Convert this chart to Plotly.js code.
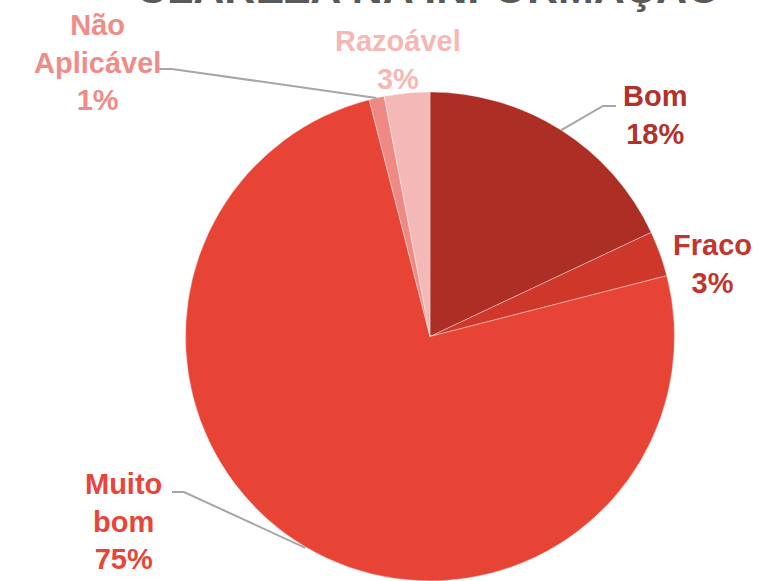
<!DOCTYPE html>
<html>
<head>
<meta charset="utf-8">
<script src="https://cdn.plot.ly/plotly-3.0.1.min.js"></script>
<style>html,body{margin:0;padding:0;background:#fff;}#chart{width:760px;height:581px;}</style>
</head>
<body>
<div id="chart"></div>
<script>
// ---- data ----
const categories = ["Bom", "Fraco", "Muito bom", "Não Aplicável", "Razoável"];
const values = [18, 3, 75, 1, 3];
const sliceColors = ["#ad2e24", "#d0372b", "#e84436", "#ef8984", "#f4b9b6"];
const labelColors = ["#b0322a", "#c2372d", "#e8453a", "#f08c87", "#f5b8b5"];
const chartTitle = "CLAREZA NA INFORMAÇÃO";

// ---- layout config (pixels) ----
const W = 760, H = 581;
const cx = 430, cy = 337, R = 245;
const labelCfg = [
  {x: 655, y: 115, line: [[603, 106], [616, 106]]},
  {x: 712, y: 264, line: null},
  {x: 123, y: 521, line: [[184, 492], [172, 492]]},
  {x: 97,  y: 62,  line: [[172, 69], [158, 69]]},
  {x: 398, y: 60,  line: null}
];
const px = x => x / W;
const py = y => 1 - y / H;

const total = values.reduce((a, b) => a + b, 0);
const annotations = [];
const shapes = [];
let cum = 0;
values.forEach((v, i) => {
  const mid = (cum + v / 2) / total * 2 * Math.PI;
  cum += v;
  const pct = Math.round(v / total * 100) + "%";
  const text = categories[i].split(" ").join("<br>") + "<br>" + pct;
  const cfg = labelCfg[i];
  annotations.push({
    text: text, xref: "paper", yref: "paper", x: px(cfg.x), y: py(cfg.y),
    xanchor: "center", yanchor: "middle", showarrow: false, align: "center",
    font: {family: "Liberation Sans, Arial, sans-serif", size: 29, color: labelColors[i], weight: "bold"}
  });
  if (cfg.line) {
    const sx = cx + R * Math.sin(mid), sy = cy - R * Math.cos(mid);
    const pts = [[sx, sy]].concat(cfg.line);
    let path = "M" + px(pts[0][0]) + "," + py(pts[0][1]);
    for (let k = 1; k < pts.length; k++) path += " L" + px(pts[k][0]) + "," + py(pts[k][1]);
    shapes.push({type: "path", xref: "paper", yref: "paper", path: path,
      line: {color: "#a6a6a6", width: 2}});
  }
});

annotations.push({
  text: "<b>" + chartTitle + "</b>", xref: "paper", yref: "paper",
  x: px(428), y: py(14), xanchor: "center", yanchor: "bottom", showarrow: false,
  font: {family: "Liberation Sans, Arial, sans-serif", size: 43, color: "#595959"}
});

const trace = {
  type: "pie",
  labels: categories,
  values: values,
  sort: false,
  direction: "clockwise",
  rotation: 0,
  textinfo: "none",
  hoverinfo: "label+percent",
  marker: {colors: sliceColors, line: {color: "rgba(255,255,255,0.45)", width: 0.8}},
  domain: {x: [(cx - R) / W, (cx + R) / W], y: [Math.max(0, (H - cy - R) / H), (H - cy + R) / H]},
  showlegend: false
};

const layout = {
  width: W, height: H,
  margin: {l: 0, r: 0, t: 0, b: 0},
  paper_bgcolor: "#ffffff",
  showlegend: false,
  annotations: annotations,
  shapes: shapes
};

Plotly.newPlot("chart", [trace], layout, {displayModeBar: false, staticPlot: true});
</script>
</body>
</html>
